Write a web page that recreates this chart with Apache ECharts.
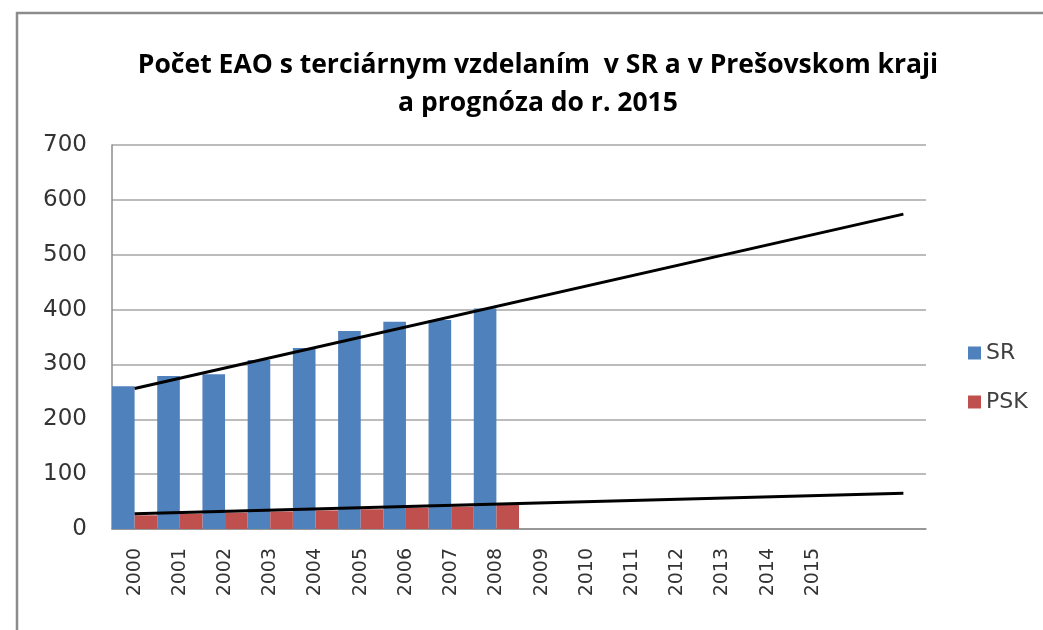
<!DOCTYPE html>
<html>
<head>
<meta charset="utf-8">
<script src="https://cdn.jsdelivr.net/npm/echarts@6/dist/echarts.min.js"></script>
<style>
  html, body { margin: 0; padding: 0; background: #ffffff; }
  #main { width: 1043px; height: 630px; }
</style>
</head>
<body>
<div id="main"></div>
<script>
// roky - posledne dve kategorie su prazdne (trend pokracuje za 2015)
var years = ['2000', '2001', '2002', '2003', '2004', '2005', '2006', '2007', '2008',
  '2009', '2010', '2011', '2012', '2013', '2014', '2015', '', ''];
var yTicks = [0, 100, 200, 300, 400, 500, 600, 700];

// pocet EAO (tis.)
var sr = [260, 279, 282, 308, 330, 361, 378, 381, 402];
var psk = [25, 28, 30, 32, 34, 36, 39, 41, 45];

// linearny trend - hodnoty odcitane na zaciatku (2000) a na konci (index 17)
var trendSR = [256, 574];
var trendPSK = [28, 65];

function trendData(ends) {
  var d = years.map(function () { return null; });
  d[0] = ends[0];
  d[years.length - 1] = ends[1];
  return d;
}

var myChart = echarts.init(document.getElementById('main'), null, { renderer: 'canvas' });

var titleFont = '"Open Sans", sans-serif';
var labelFont = '"DejaVu Sans", sans-serif';

var option = {
  backgroundColor: '#ffffff',
  animation: false,
  color: ['#4F81BD', '#C0504D'],
  title: {
    text: 'Počet EAO s terciárnym vzdelaním  v SR a v Prešovskom kraji\na prognóza do r. 2015',
    left: 533,
    top: 41,
    textAlign: 'center',
    textStyle: {
      fontFamily: titleFont,
      fontWeight: 'bold',
      fontSize: 26.5,
      lineHeight: 38,
      color: '#000000'
    }
  },
  legend: {
    data: ['SR', 'PSK'],
    orient: 'vertical',
    left: 968,
    top: 342,
    padding: 0,
    itemWidth: 13,
    itemHeight: 13,
    itemGap: 27,
    icon: 'rect',
    textStyle: { fontFamily: labelFont, fontSize: 22, color: '#404040' }
  },
  grid: { left: 112, right: 117, top: 145, bottom: 101 },
  xAxis: {
    type: 'category',
    data: years,
    axisLine: { lineStyle: { color: '#8c8c8c', width: 1.5 } },
    axisTick: { show: false },
    axisLabel: {
      rotate: 90,
      margin: 19,
      interval: 0,
      fontFamily: labelFont,
      fontSize: 19,
      color: '#333333'
    }
  },
  yAxis: {
    type: 'value',
    min: yTicks[0],
    max: yTicks[yTicks.length - 1],
    interval: 100,
    axisLine: { show: true, lineStyle: { color: '#8c8c8c', width: 1.5 } },
    axisTick: { show: false },
    splitLine: { lineStyle: { color: '#a6a6a6', width: 1.5 } },
    axisLabel: {
      margin: 25,
      fontFamily: labelFont,
      fontSize: 23,
      color: '#333333'
    }
  },
  graphic: [{
    type: 'rect',
    shape: { x: 17, y: 13, width: 1100, height: 700 },
    style: { fill: 'none', stroke: '#8c8c8c', lineWidth: 2.5 },
    silent: true,
    z: -1
  }],
  series: [
    {
      name: 'SR',
      type: 'bar',
      data: sr,
      barGap: '0%',
      barCategoryGap: '0%'
    },
    {
      name: 'PSK',
      type: 'bar',
      data: psk,
      barGap: '0%',
      barCategoryGap: '0%'
    },
    {
      name: 'trend SR',
      type: 'line',
      data: trendData(trendSR),
      connectNulls: true,
      symbol: 'none',
      lineStyle: { color: '#000000', width: 3 },
      z: 5
    },
    {
      name: 'trend PSK',
      type: 'line',
      data: trendData(trendPSK),
      connectNulls: true,
      symbol: 'none',
      lineStyle: { color: '#000000', width: 3 },
      z: 5
    }
  ]
};

myChart.setOption(option);
</script>
</body>
</html>
